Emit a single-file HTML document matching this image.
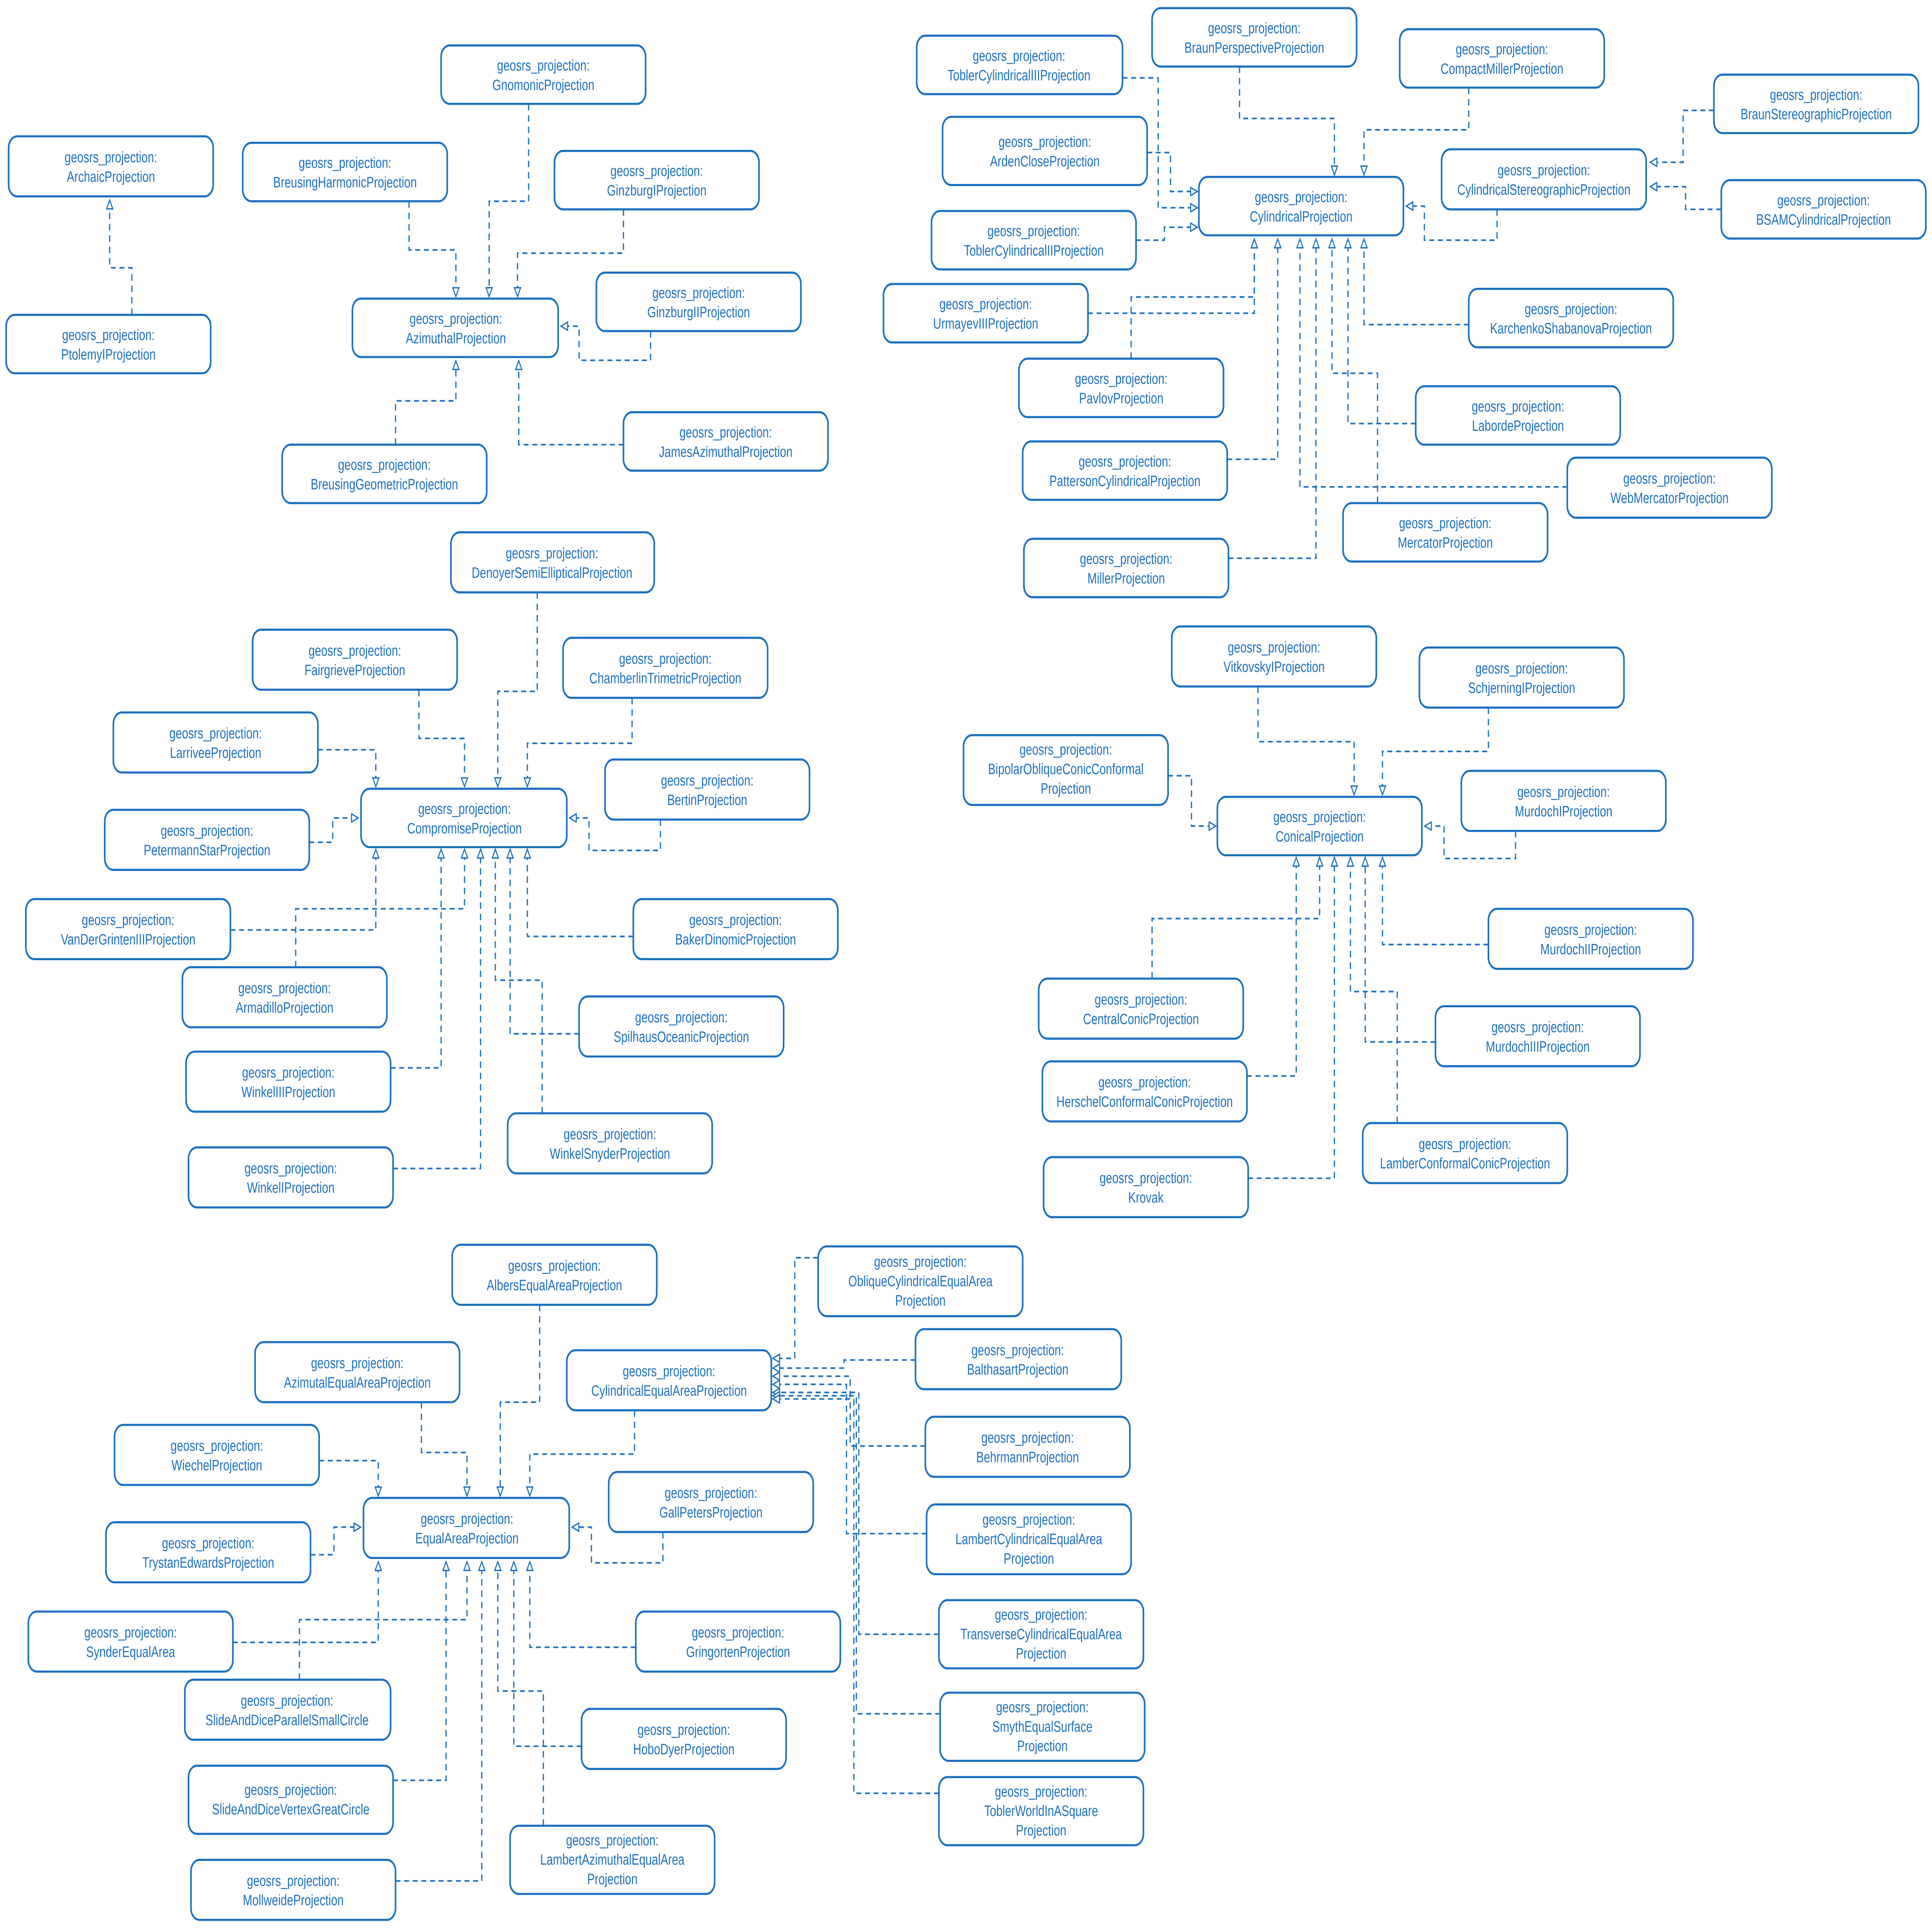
<!DOCTYPE html>
<html><head><meta charset="utf-8">
<style>
html,body{margin:0;padding:0;background:#fff;width:100%;height:100%;overflow:hidden;}
svg{display:block;position:fixed;left:0;top:0;width:100vw;height:100vh;}
.n{fill:#fff;stroke:#1b70c0;stroke-width:1.3;}
.t{font-family:"Liberation Sans",sans-serif;font-size:9.2px;fill:#1b70c0;text-anchor:middle;}
.e{fill:none;stroke:#1b70c0;stroke-width:1;stroke-dasharray:4 3;marker-end:url(#a);}
</style></head>
<body>
<svg viewBox="0 0 1568 1188" preserveAspectRatio="none" xmlns="http://www.w3.org/2000/svg">
<defs>
<marker id="a" viewBox="0 0 10 10" refX="10" refY="5" markerWidth="8" markerHeight="6" markerUnits="userSpaceOnUse" orient="auto">
<path d="M0.5,0.8 L9.5,5 L0.5,9.2 z" fill="#fff" stroke="#1b70c0" stroke-width="1.4"/>
</marker>
</defs>

<g>
<path class="e" d="M107,194 V165 H89 V123"/>
<path class="e" d="M429,64 V124 H397 V183"/>
<path class="e" d="M332,124 V154 H370 V183"/>
<path class="e" d="M506,129 V156 H420 V183"/>
<path class="e" d="M528,204 V222 H470 V201 H455"/>
<path class="e" d="M506,274 H421 V222"/>
<path class="e" d="M321,274 V247 H370 V222"/>

<path class="e" d="M911,48 H940 V128 H972"/>
<path class="e" d="M931,94 H950 V118 H972"/>
<path class="e" d="M922,148 H945 V140 H972"/>
<path class="e" d="M1006,41 V73 H1083 V108"/>
<path class="e" d="M1192,54 V80 H1107 V108"/>
<path class="e" d="M1215,129 V148 H1156 V127 H1141"/>
<path class="e" d="M1391,68 H1366 V100 H1339"/>
<path class="e" d="M1397,129 H1368 V115 H1339"/>
<path class="e" d="M883,193 H1018 V147"/>
<path class="e" d="M918,221 V183 H1018 V147"/>
<path class="e" d="M996,283 H1037 V147"/>
<path class="e" d="M997,344 H1068 V147"/>
<path class="e" d="M1272,300 H1055 V147"/>
<path class="e" d="M1118,310 V230 H1081 V147"/>
<path class="e" d="M1149,261 H1094 V147"/>
<path class="e" d="M1192,200 H1107 V147"/>

<path class="e" d="M436,365 V426 H404 V485"/>
<path class="e" d="M340,425 V455 H377 V485"/>
<path class="e" d="M513,430 V458 H428 V485"/>
<path class="e" d="M258,462 H305 V485"/>
<path class="e" d="M251,519 H270 V504 H291"/>
<path class="e" d="M536,505 V524 H478 V504 H462"/>
<path class="e" d="M187,573 H305 V523"/>
<path class="e" d="M240,596 V560 H377 V523"/>
<path class="e" d="M317,658 H358 V523"/>
<path class="e" d="M319,720 H390 V523"/>
<path class="e" d="M514,577 H428 V523"/>
<path class="e" d="M470,637 H414 V523"/>
<path class="e" d="M440,686 V604 H402 V523"/>

<path class="e" d="M1021,423 V457 H1099 V490"/>
<path class="e" d="M1208,436 V463 H1122 V490"/>
<path class="e" d="M948,478 H967 V509 H987"/>
<path class="e" d="M1230,512 V529 H1172 V509 H1156"/>
<path class="e" d="M935,603 V566 H1071 V528"/>
<path class="e" d="M1012,663 H1052 V528"/>
<path class="e" d="M1013,726 H1083 V528"/>
<path class="e" d="M1208,582 H1122 V528"/>
<path class="e" d="M1165,642 H1108 V528"/>
<path class="e" d="M1134,692 V611 H1096 V528"/>

<path class="e" d="M438,804 V864 H406 V922"/>
<path class="e" d="M342,864 V895 H379 V922"/>
<path class="e" d="M515,869 V896 H430 V922"/>
<path class="e" d="M259,900 H307 V922"/>
<path class="e" d="M252,958 H271 V941 H293"/>
<path class="e" d="M538,944 V963 H480 V941 H464"/>
<path class="e" d="M189,1012 H307 V962"/>
<path class="e" d="M243,1035 V998 H379 V962"/>
<path class="e" d="M319,1097 H362 V962"/>
<path class="e" d="M321,1159 H391 V962"/>
<path class="e" d="M516,1015 H430 V962"/>
<path class="e" d="M472,1076 H417 V962"/>
<path class="e" d="M441,1125 V1042 H404 V962"/>

<path class="e" d="M664,775 H645 V837 H627"/>
<path class="e" d="M743,838 H685 V843 H627"/>
<path class="e" d="M751,891 H690 V848 H627"/>
<path class="e" d="M752,945 H687 V853 H627"/>
<path class="e" d="M762,1007 H697 V858 H627"/>
<path class="e" d="M763,1056 H695 V860 H627"/>
<path class="e" d="M762,1105 H693 V862 H627"/>
</g>

<g>
<rect class="n" x="7" y="84" width="166" height="37" rx="7"/><text class="t" x="90" y="100">geosrs_projection:</text><text class="t" x="90" y="112">ArchaicProjection</text>
<rect class="n" x="5" y="194" width="166" height="36" rx="7"/><text class="t" x="88" y="209.5">geosrs_projection:</text><text class="t" x="88" y="221.5">PtolemyIProjection</text>
<rect class="n" x="358" y="28" width="166" height="36" rx="7"/><text class="t" x="441" y="43.5">geosrs_projection:</text><text class="t" x="441" y="55.5">GnomonicProjection</text>
<rect class="n" x="197" y="88" width="166" height="36" rx="7"/><text class="t" x="280" y="103.5">geosrs_projection:</text><text class="t" x="280" y="115.5">BreusingHarmonicProjection</text>
<rect class="n" x="450" y="93" width="166" height="36" rx="7"/><text class="t" x="533" y="108.5">geosrs_projection:</text><text class="t" x="533" y="120.5">GinzburgIProjection</text>
<rect class="n" x="484" y="168" width="166" height="36" rx="7"/><text class="t" x="567" y="183.5">geosrs_projection:</text><text class="t" x="567" y="195.5">GinzburgIIProjection</text>
<rect class="n" x="286" y="184" width="167" height="36" rx="7"/><text class="t" x="370" y="199.5">geosrs_projection:</text><text class="t" x="370" y="211.5">AzimuthalProjection</text>
<rect class="n" x="506" y="254" width="166" height="36" rx="7"/><text class="t" x="589" y="269.5">geosrs_projection:</text><text class="t" x="589" y="281.5">JamesAzimuthalProjection</text>
<rect class="n" x="229" y="274" width="166" height="36" rx="7"/><text class="t" x="312" y="289.5">geosrs_projection:</text><text class="t" x="312" y="301.5">BreusingGeometricProjection</text>

<rect class="n" x="744" y="22" width="167" height="36" rx="7"/><text class="t" x="827" y="37.5">geosrs_projection:</text><text class="t" x="827" y="49.5">ToblerCylindricalIIIProjection</text>
<rect class="n" x="935" y="5" width="166" height="36" rx="7"/><text class="t" x="1018" y="20.5">geosrs_projection:</text><text class="t" x="1018" y="32.5">BraunPerspectiveProjection</text>
<rect class="n" x="1136" y="18" width="166" height="36" rx="7"/><text class="t" x="1219" y="33.5">geosrs_projection:</text><text class="t" x="1219" y="45.5">CompactMillerProjection</text>
<rect class="n" x="1391" y="46" width="166" height="36" rx="7"/><text class="t" x="1474" y="61.5">geosrs_projection:</text><text class="t" x="1474" y="73.5">BraunStereographicProjection</text>
<rect class="n" x="765" y="72" width="166" height="42" rx="7"/><text class="t" x="848" y="90.5">geosrs_projection:</text><text class="t" x="848" y="102.5">ArdenCloseProjection</text>
<rect class="n" x="973" y="109" width="166" height="36" rx="7"/><text class="t" x="1056" y="124.5">geosrs_projection:</text><text class="t" x="1056" y="136.5">CylindricalProjection</text>
<rect class="n" x="1170" y="92" width="166" height="37" rx="7"/><text class="t" x="1253" y="108">geosrs_projection:</text><text class="t" x="1253" y="120">CylindricalStereographicProjection</text>
<rect class="n" x="1397" y="111" width="166" height="36" rx="7"/><text class="t" x="1480" y="126.5">geosrs_projection:</text><text class="t" x="1480" y="138.5">BSAMCylindricalProjection</text>
<rect class="n" x="756" y="130" width="166" height="36" rx="7"/><text class="t" x="839" y="145.5">geosrs_projection:</text><text class="t" x="839" y="157.5">ToblerCylindricalIIProjection</text>
<rect class="n" x="717" y="175" width="166" height="36" rx="7"/><text class="t" x="800" y="190.5">geosrs_projection:</text><text class="t" x="800" y="202.5">UrmayevIIIProjection</text>
<rect class="n" x="1192" y="178" width="166" height="36" rx="7"/><text class="t" x="1275" y="193.5">geosrs_projection:</text><text class="t" x="1275" y="205.5">KarchenkoShabanovaProjection</text>
<rect class="n" x="827" y="221" width="166" height="36" rx="7"/><text class="t" x="910" y="236.5">geosrs_projection:</text><text class="t" x="910" y="248.5">PavlovProjection</text>
<rect class="n" x="1149" y="238" width="166" height="36" rx="7"/><text class="t" x="1232" y="253.5">geosrs_projection:</text><text class="t" x="1232" y="265.5">LabordeProjection</text>
<rect class="n" x="830" y="272" width="166" height="36" rx="7"/><text class="t" x="913" y="287.5">geosrs_projection:</text><text class="t" x="913" y="299.5">PattersonCylindricalProjection</text>
<rect class="n" x="1272" y="282" width="166" height="37" rx="7"/><text class="t" x="1355" y="298">geosrs_projection:</text><text class="t" x="1355" y="310">WebMercatorProjection</text>
<rect class="n" x="1090" y="310" width="166" height="36" rx="7"/><text class="t" x="1173" y="325.5">geosrs_projection:</text><text class="t" x="1173" y="337.5">MercatorProjection</text>
<rect class="n" x="831" y="332" width="166" height="36" rx="7"/><text class="t" x="914" y="347.5">geosrs_projection:</text><text class="t" x="914" y="359.5">MillerProjection</text>

<rect class="n" x="366" y="328" width="165" height="37" rx="7"/><text class="t" x="448" y="344">geosrs_projection:</text><text class="t" x="448" y="356">DenoyerSemiEllipticalProjection</text>
<rect class="n" x="205" y="388" width="166" height="37" rx="7"/><text class="t" x="288" y="404">geosrs_projection:</text><text class="t" x="288" y="416">FairgrieveProjection</text>
<rect class="n" x="457" y="393" width="166" height="37" rx="7"/><text class="t" x="540" y="409">geosrs_projection:</text><text class="t" x="540" y="421">ChamberlinTrimetricProjection</text>
<rect class="n" x="92" y="439" width="166" height="37" rx="7"/><text class="t" x="175" y="455">geosrs_projection:</text><text class="t" x="175" y="467">LarriveeProjection</text>
<rect class="n" x="491" y="468" width="166" height="37" rx="7"/><text class="t" x="574" y="484">geosrs_projection:</text><text class="t" x="574" y="496">BertinProjection</text>
<rect class="n" x="293" y="486" width="167" height="36" rx="7"/><text class="t" x="377" y="501.5">geosrs_projection:</text><text class="t" x="377" y="513.5">CompromiseProjection</text>
<rect class="n" x="85" y="499" width="166" height="37" rx="7"/><text class="t" x="168" y="515">geosrs_projection:</text><text class="t" x="168" y="527">PetermannStarProjection</text>
<rect class="n" x="21" y="554" width="166" height="37" rx="7"/><text class="t" x="104" y="570">geosrs_projection:</text><text class="t" x="104" y="582">VanDerGrintenIIIProjection</text>
<rect class="n" x="514" y="554" width="166" height="37" rx="7"/><text class="t" x="597" y="570">geosrs_projection:</text><text class="t" x="597" y="582">BakerDinomicProjection</text>
<rect class="n" x="148" y="596" width="166" height="37" rx="7"/><text class="t" x="231" y="612">geosrs_projection:</text><text class="t" x="231" y="624">ArmadilloProjection</text>
<rect class="n" x="470" y="614" width="166" height="37" rx="7"/><text class="t" x="553" y="630">geosrs_projection:</text><text class="t" x="553" y="642">SpilhausOceanicProjection</text>
<rect class="n" x="151" y="648" width="166" height="37" rx="7"/><text class="t" x="234" y="664">geosrs_projection:</text><text class="t" x="234" y="676">WinkelIIIProjection</text>
<rect class="n" x="412" y="686" width="166" height="37" rx="7"/><text class="t" x="495" y="702">geosrs_projection:</text><text class="t" x="495" y="714">WinkelSnyderProjection</text>
<rect class="n" x="153" y="707" width="166" height="37" rx="7"/><text class="t" x="236" y="723">geosrs_projection:</text><text class="t" x="236" y="735">WinkelIProjection</text>

<rect class="n" x="951" y="386" width="166" height="37" rx="7"/><text class="t" x="1034" y="402">geosrs_projection:</text><text class="t" x="1034" y="414">VitkovskyIProjection</text>
<rect class="n" x="1152" y="399" width="166" height="37" rx="7"/><text class="t" x="1235" y="415">geosrs_projection:</text><text class="t" x="1235" y="427">SchjerningIProjection</text>
<rect class="n" x="782" y="453" width="166" height="43" rx="7"/><text class="t" x="865" y="465">geosrs_projection:</text><text class="t" x="865" y="477">BipolarObliqueConicConformal</text><text class="t" x="865" y="489">Projection</text>
<rect class="n" x="1186" y="475" width="166" height="37" rx="7"/><text class="t" x="1269" y="491">geosrs_projection:</text><text class="t" x="1269" y="503">MurdochIProjection</text>
<rect class="n" x="988" y="491" width="166" height="36" rx="7"/><text class="t" x="1071" y="506.5">geosrs_projection:</text><text class="t" x="1071" y="518.5">ConicalProjection</text>
<rect class="n" x="1208" y="560" width="166" height="37" rx="7"/><text class="t" x="1291" y="576">geosrs_projection:</text><text class="t" x="1291" y="588">MurdochIIProjection</text>
<rect class="n" x="843" y="603" width="166" height="37" rx="7"/><text class="t" x="926" y="619">geosrs_projection:</text><text class="t" x="926" y="631">CentralConicProjection</text>
<rect class="n" x="1165" y="620" width="166" height="37" rx="7"/><text class="t" x="1248" y="636">geosrs_projection:</text><text class="t" x="1248" y="648">MurdochIIIProjection</text>
<rect class="n" x="846" y="654" width="166" height="37" rx="7"/><text class="t" x="929" y="670">geosrs_projection:</text><text class="t" x="929" y="682">HerschelConformalConicProjection</text>
<rect class="n" x="1106" y="692" width="166" height="37" rx="7"/><text class="t" x="1189" y="708">geosrs_projection:</text><text class="t" x="1189" y="720">LamberConformalConicProjection</text>
<rect class="n" x="847" y="713" width="166" height="37" rx="7"/><text class="t" x="930" y="729">geosrs_projection:</text><text class="t" x="930" y="741">Krovak</text>

<rect class="n" x="367" y="767" width="166" height="37" rx="7"/><text class="t" x="450" y="783">geosrs_projection:</text><text class="t" x="450" y="795">AlbersEqualAreaProjection</text>
<rect class="n" x="664" y="768" width="166" height="43" rx="7"/><text class="t" x="747" y="780.5">geosrs_projection:</text><text class="t" x="747" y="792.5">ObliqueCylindricalEqualArea</text><text class="t" x="747" y="804.5">Projection</text>
<rect class="n" x="207" y="827" width="166" height="37" rx="7"/><text class="t" x="290" y="843">geosrs_projection:</text><text class="t" x="290" y="855">AzimutalEqualAreaProjection</text>
<rect class="n" x="460" y="832" width="166" height="37" rx="7"/><text class="t" x="543" y="848">geosrs_projection:</text><text class="t" x="543" y="860">CylindricalEqualAreaProjection</text>
<rect class="n" x="743" y="819" width="167" height="37" rx="7"/><text class="t" x="826" y="835">geosrs_projection:</text><text class="t" x="826" y="847">BalthasartProjection</text>
<rect class="n" x="93" y="878" width="166" height="37" rx="7"/><text class="t" x="176" y="894">geosrs_projection:</text><text class="t" x="176" y="906">WiechelProjection</text>
<rect class="n" x="751" y="873" width="166" height="37" rx="7"/><text class="t" x="834" y="889">geosrs_projection:</text><text class="t" x="834" y="901">BehrmannProjection</text>
<rect class="n" x="494" y="907" width="166" height="37" rx="7"/><text class="t" x="577" y="923">geosrs_projection:</text><text class="t" x="577" y="935">GallPetersProjection</text>
<rect class="n" x="295" y="923" width="167" height="37" rx="7"/><text class="t" x="379" y="939">geosrs_projection:</text><text class="t" x="379" y="951">EqualAreaProjection</text>
<rect class="n" x="86" y="938" width="166" height="37" rx="7"/><text class="t" x="169" y="954">geosrs_projection:</text><text class="t" x="169" y="966">TrystanEdwardsProjection</text>
<rect class="n" x="752" y="927" width="166" height="43" rx="7"/><text class="t" x="835" y="939.5">geosrs_projection:</text><text class="t" x="835" y="951.5">LambertCylindricalEqualArea</text><text class="t" x="835" y="963.5">Projection</text>
<rect class="n" x="23" y="993" width="166" height="37" rx="7"/><text class="t" x="106" y="1009">geosrs_projection:</text><text class="t" x="106" y="1021">SynderEqualArea</text>
<rect class="n" x="516" y="993" width="166" height="37" rx="7"/><text class="t" x="599" y="1009">geosrs_projection:</text><text class="t" x="599" y="1021">GringortenProjection</text>
<rect class="n" x="762" y="986" width="166" height="42" rx="7"/><text class="t" x="845" y="998">geosrs_projection:</text><text class="t" x="845" y="1010">TransverseCylindricalEqualArea</text><text class="t" x="845" y="1022">Projection</text>
<rect class="n" x="150" y="1035" width="167" height="37" rx="7"/><text class="t" x="233" y="1051">geosrs_projection:</text><text class="t" x="233" y="1063">SlideAndDiceParallelSmallCircle</text>
<rect class="n" x="763" y="1043" width="166" height="42" rx="7"/><text class="t" x="846" y="1055">geosrs_projection:</text><text class="t" x="846" y="1067">SmythEqualSurface</text><text class="t" x="846" y="1079">Projection</text>
<rect class="n" x="472" y="1053" width="166" height="37" rx="7"/><text class="t" x="555" y="1069">geosrs_projection:</text><text class="t" x="555" y="1081">HoboDyerProjection</text>
<rect class="n" x="153" y="1088" width="166" height="42" rx="7"/><text class="t" x="236" y="1106">geosrs_projection:</text><text class="t" x="236" y="1118">SlideAndDiceVertexGreatCircle</text>
<rect class="n" x="762" y="1095" width="166" height="42" rx="7"/><text class="t" x="845" y="1107">geosrs_projection:</text><text class="t" x="845" y="1119">ToblerWorldInASquare</text><text class="t" x="845" y="1131">Projection</text>
<rect class="n" x="414" y="1125" width="166" height="42" rx="7"/><text class="t" x="497" y="1137">geosrs_projection:</text><text class="t" x="497" y="1149">LambertAzimuthalEqualArea</text><text class="t" x="497" y="1161">Projection</text>
<rect class="n" x="155" y="1146" width="166" height="37" rx="7"/><text class="t" x="238" y="1162">geosrs_projection:</text><text class="t" x="238" y="1174">MollweideProjection</text>
</g>
</svg>
</body></html>
